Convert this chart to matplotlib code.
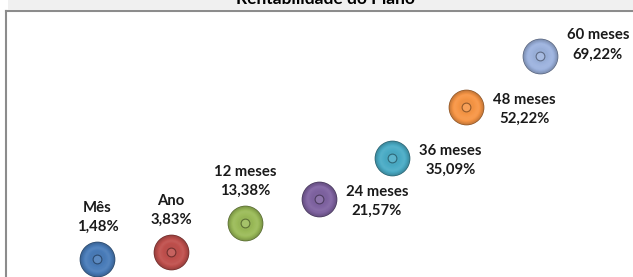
import matplotlib
matplotlib.use("Agg")
import matplotlib.pyplot as plt
import matplotlib.colors as mcolors
import numpy as np
from matplotlib.patches import Rectangle

# ---- data ----
title = "Rentabilidade do Plano"
categories = ["Mês", "Ano", "12 meses", "24 meses", "36 meses", "48 meses", "60 meses"]
values = [1.48, 3.83, 13.38, 21.57, 35.09, 52.22, 69.22]
colors = ["#4A7DBA", "#C0504D", "#9BBB59", "#8064A2", "#4BACC6", "#F79646", "#9DB3DE"]

# ---- layout (label offsets in points) ----
label_offsets = [(0, 30), (0, 30), (0, 30), (42, -1.5), (42, -1.5), (42, -1.5), (42, 8)]

plt.rcParams['font.family'] = ['Lato', 'DejaVu Sans']

W, H = 633, 277
fig = plt.figure(figsize=(W / 100, H / 100), dpi=100)
fig.patch.set_facecolor("white")

# top grey title band
fig.patches.append(Rectangle((8 / W, 1 - 10 / H), 1, 10 / H, transform=fig.transFigure,
                             facecolor="#F0F0F0", edgecolor="none", zorder=0))
fig.text(325 / W, 1 - 4 / H, title, ha="center", va="baseline", fontsize=12.5,
         fontweight="bold", color="#000000")

ax = fig.add_axes([6 / W, (H - 285) / H, 634 / W, (285 - 11) / H])
ax.set_facecolor("white")
for s in ax.spines.values():
    s.set_color("#8C8C8C")
    s.set_linewidth(1.5)
ax.set_xticks([])
ax.set_yticks([])

x = np.arange(1, len(values) + 1)
ax.set_xlim(-0.242, 8.364)
ax.set_ylim(-7.13, 84.2)


def shade(c, f):
    r, g, b = mcolors.to_rgb(c)
    if f < 1:
        return (r * f, g * f, b * f)
    f = f - 1
    return (r + (1 - r) * f, g + (1 - g) * f, b + (1 - b) * f)


base_s = 660
for xi, v, c in zip(x, values, colors):
    ax.scatter([xi], [v], s=base_s, color=shade(c, 0.55), zorder=3, linewidths=0)
    n = 12
    for k in range(n):
        t = k / (n - 1)
        s = base_s * (0.93 - 0.75 * t)
        col = shade(c, 0.8 + 0.45 * t if t < 0.6 else 1.07 - 0.25 * (t - 0.6))
        ax.scatter([xi], [v + 0.25 * t], s=s, color=col, zorder=4, linewidths=0)
    ax.scatter([xi], [v], s=40, facecolor=shade(c, 1.1), edgecolor=shade(c, 0.6),
               linewidths=0.8, zorder=5)

for xi, v, cat, off in zip(x, values, categories, label_offsets):
    txt = f"{cat}\n{v:.2f}%".replace(".", ",")
    ax.annotate(txt, (xi, v), xytext=off, textcoords="offset points", ha="center",
                va="center", fontsize=10.7, fontweight="bold", color="#1a1a1a",
                linespacing=1.45, zorder=6)

fig.savefig("out.png", dpi=100, facecolor=fig.get_facecolor())
